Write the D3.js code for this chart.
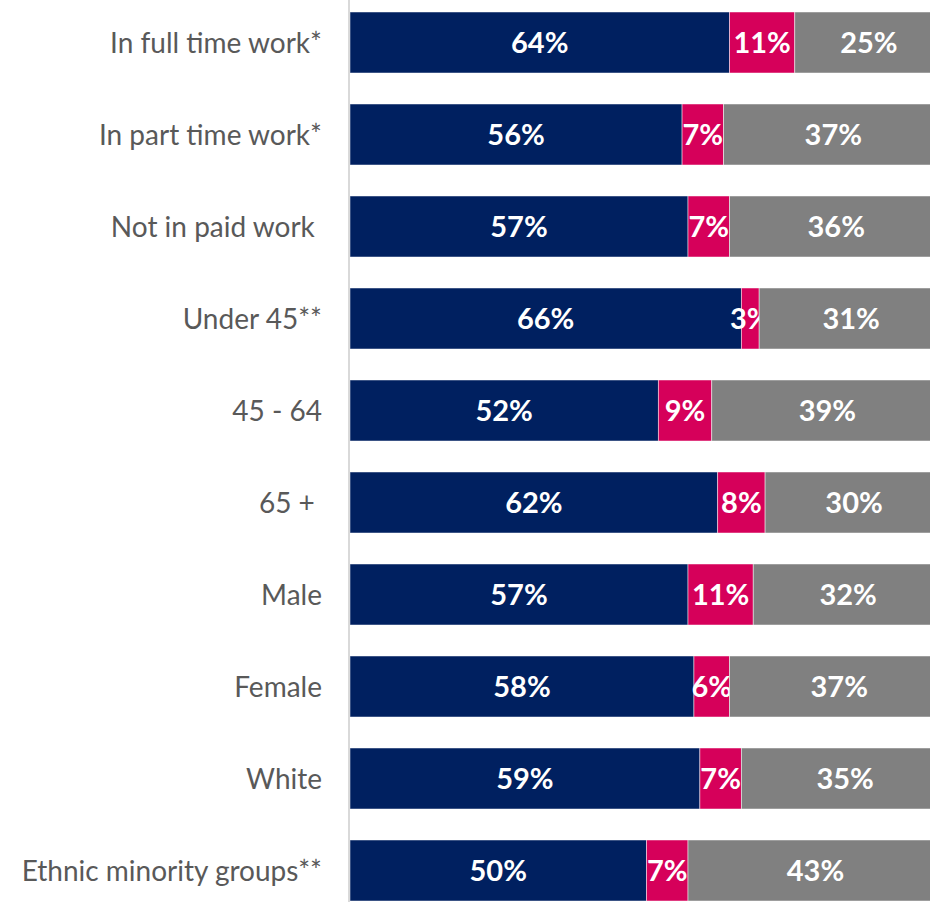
<!DOCTYPE html>
<html>
<head>
<meta charset="utf-8">
<script src="https://cdn.jsdelivr.net/npm/d3@7"></script>
<style>
  html, body { margin: 0; padding: 0; background: #fff; }
  svg { display: block; }
  .cat { white-space: pre; }
</style>
</head>
<body>
<svg id="chart" width="930" height="902"></svg>
<script>
// Groups shown down the left side
const categories = [
  "In full time work*",
  "In part time work*",
  "Not in paid work ",
  "Under 45**",
  "45 - 64",
  "65 + ",
  "Male",
  "Female",
  "White",
  "Ethnic minority groups**"
];

// Share of each group per response (percent)
const seriesA = [64, 56, 57, 66, 52, 62, 57, 58, 59, 50];
const seriesB = [11, 7, 7, 3, 9, 8, 11, 6, 7, 7];
const seriesC = [25, 37, 36, 31, 39, 30, 32, 37, 35, 43];

const seriesKeys = ["a", "b", "c"];
const seriesColors = ["#002060", "#d6005a", "#808080"];

const rows = categories.map((c, i) => ({
  category: c, a: seriesA[i], b: seriesB[i], c: seriesC[i]
}));

const svg = d3.select("#chart");

const x = d3.scaleLinear().domain([0, 100]).range([350, 943]);
const y = d3.scaleBand()
  .domain(categories)
  .range([-3.5, 916.5])
  .paddingInner(0.337)
  .paddingOuter(0.1685);

const stack = d3.stack().keys(seriesKeys)(rows);

const layers = svg.append("g")
  .selectAll("g")
  .data(stack)
  .join("g")
  .attr("fill", (d, i) => seriesColors[i]);

layers.selectAll("rect")
  .data(d => d)
  .join("rect")
  .attr("x", d => x(d[0]))
  .attr("y", d => y(d.data.category))
  .attr("width", d => x(d[1]) - x(d[0]))
  .attr("height", y.bandwidth())
  .attr("stroke", "#ffffff")
  .attr("stroke-opacity", 0.6)
  .attr("stroke-width", 0.8);

// Value labels centred in each segment
layers.selectAll("text")
  .data(d => d.map(s => ({ s, key: d.key })))
  .join("text")
  .attr("x", d => (x(d.s[0]) + x(d.s[1])) / 2)
  .attr("y", d => y(d.s.data.category) + y.bandwidth() / 2)
  .attr("dy", "0.37em")
  .attr("text-anchor", "middle")
  .attr("fill", "#ffffff")
  .attr("font-family", "Lato, 'Open Sans', sans-serif")
  .attr("font-weight", 700)
  .attr("font-size", 29)
  .text(d => (d.s[1] - d.s[0]) + "%");

// Category axis
const axis = d3.axisLeft(y).tickSize(0).tickPadding(27);
const axisG = svg.append("g")
  .attr("transform", "translate(349,0)")
  .call(axis);
axisG.select(".domain").remove();
axisG.selectAll("text")
  .attr("class", "cat")
  .attr("dy", "0.38em")
  .attr("fill", "#595959")
  .attr("font-family", "Lato, 'Open Sans', sans-serif")
  .attr("font-size", 28);

svg.append("line")
  .attr("x1", 349).attr("x2", 349)
  .attr("y1", 0).attr("y2", 902)
  .attr("stroke", "#d9d9d9")
  .attr("stroke-width", 2);
</script>
</body>
</html>
